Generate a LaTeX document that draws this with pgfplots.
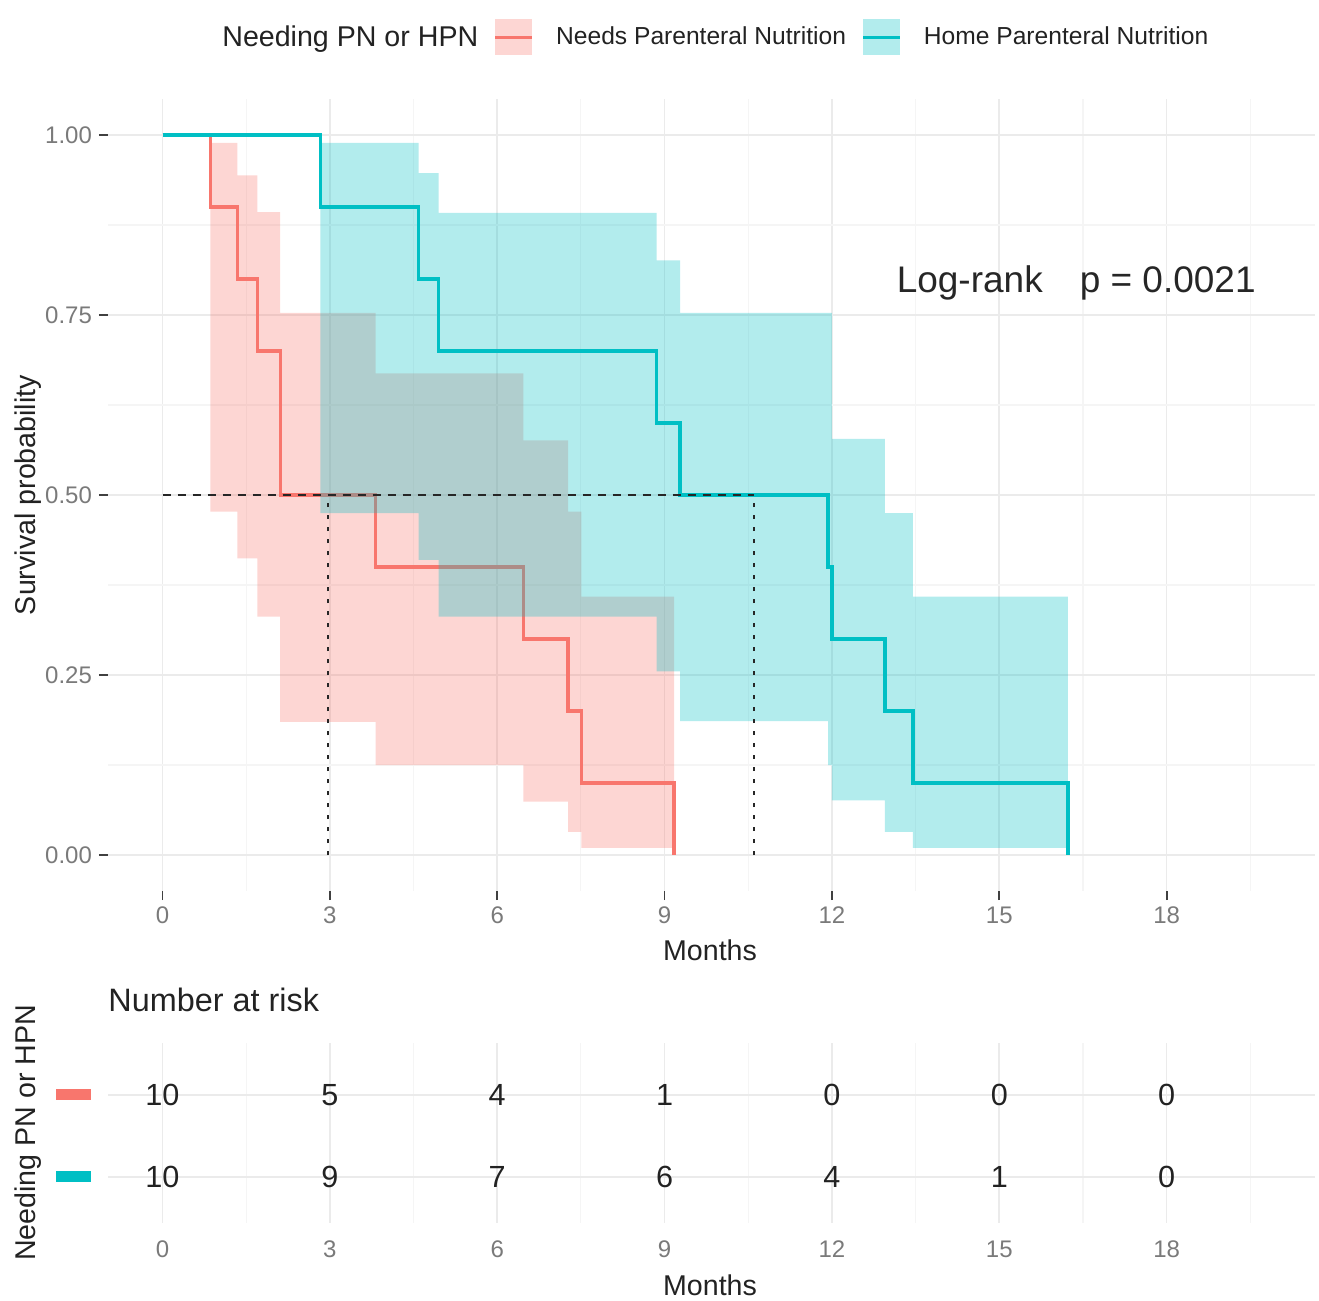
\documentclass[border=0pt]{standalone}
\usepackage{fontspec}
\setmainfont{Liberation Sans}
\usepackage{pgfplots}
\pgfplotsset{compat=1.18}
\definecolor{cpn}{HTML}{F8766D}
\definecolor{chpn}{HTML}{00BFC4}
\definecolor{gmaj}{HTML}{EBEBEB}
\definecolor{gmin}{HTML}{F5F5F5}
\definecolor{ticklab}{HTML}{7A7A7A}
\definecolor{labcol}{HTML}{222222}
\begin{document}
\begin{tikzpicture}
\path[use as bounding box] (0,0) rectangle (659.5pt,-650.5pt);
\pgfplotsset{kmbase/.style={
  scale only axis, width=603.5pt,
  xmin=-0.977, xmax=20.66,
  xtick={0,3,...,18},
  minor xtick={1.5,4.5,...,19.5},
  axis line style={draw=none},
  grid=both,
  major grid style={gmaj, line width=0.8pt},
  minor grid style={gmin, line width=0.6pt},
  minor tick length=0pt,
  tick label style={font=\fontsize{12}{14}\selectfont, text=ticklab},
  /pgf/number format/assume math mode=true,
  label style={font=\fontsize{14.3}{16}\selectfont, text=labcol},
}}
\begin{axis}[kmbase, at={(54pt,-445.5pt)}, anchor=south west, height=396pt,
  ymin=-0.05, ymax=1.05,
  ytick={0,0.25,0.5,0.75,1}, yticklabels={0.00,0.25,0.50,0.75,1.00},
  minor ytick={0.125,0.375,0.625,0.875},
  tick align=outside, tick pos=left, major tick length=4.5pt,
  tick style={black!75, line width=0.9pt},
  xlabel={Months}, ylabel={Survival probability},
  xlabel style={at={(axis description cs:0.4988,-0.0745)}, anchor=center},
  ylabel style={at={(axis description cs:-0.0663,0.5)}, anchor=center},
  legend columns=-1,
  legend style={draw=none, fill=none, at={(0.0762,1.078)}, anchor=west, inner sep=0pt,
    font=\fontsize{12.3}{14}\selectfont, text=labcol,
    /tikz/every odd column/.append style={column sep=11pt},
    /tikz/every even column/.append style={column sep=7.75pt},
    nodes={inner sep=0pt}},
]
% survival curves
\addplot[forget plot, cpn, line width=1.7pt, const plot] coordinates {
 (0,1) (0.86,0.9) (1.34,0.8) (1.70,0.7) (2.11,0.5) (3.82,0.4) (6.47,0.3) (7.27,0.2) (7.51,0.1) (9.17,0)};
\addplot[forget plot, chpn, line width=1.7pt, const plot] coordinates {
 (0,1) (2.83,0.9) (4.59,0.8) (4.95,0.7) (8.86,0.6) (9.28,0.5) (11.93,0.4) (12.0,0.3) (12.95,0.2) (13.45,0.1) (16.23,0)};
% confidence bands
\addplot[forget plot, fill=cpn, fill opacity=0.3, draw=none] coordinates {
 (0.86,0.989) (1.34,0.989) (1.34,0.944) (1.70,0.944) (1.70,0.893) (2.11,0.893) (2.11,0.753) (3.82,0.753)
 (3.82,0.669) (6.47,0.669) (6.47,0.576) (7.27,0.576) (7.27,0.477) (7.51,0.477) (7.51,0.359) (9.17,0.359)
 (9.17,0.01) (7.51,0.01) (7.51,0.032) (7.27,0.032) (7.27,0.074) (6.47,0.074) (6.47,0.125) (3.82,0.125)
 (3.82,0.185) (2.11,0.185) (2.11,0.331) (1.70,0.331) (1.70,0.412) (1.34,0.412) (1.34,0.477) (0.86,0.477)};
\addplot[forget plot, fill=chpn, fill opacity=0.3, draw=none] coordinates {
 (2.83,0.989) (4.59,0.989) (4.59,0.947) (4.95,0.947) (4.95,0.892) (8.86,0.892) (8.86,0.826) (9.28,0.826)
 (9.28,0.753) (12.0,0.753) (12.0,0.578) (12.95,0.578) (12.95,0.475) (13.45,0.475) (13.45,0.359) (16.23,0.359)
 (16.23,0.01) (13.45,0.01) (13.45,0.032) (12.95,0.032) (12.95,0.076) (12.0,0.076) (12.0,0.125) (11.93,0.125)
 (11.93,0.186) (9.28,0.186) (9.28,0.255) (8.86,0.255) (8.86,0.331) (4.95,0.331) (4.95,0.41) (4.59,0.41)
 (4.59,0.475) (2.83,0.475)};
% median lines
\addplot[forget plot, black!85, line width=1.3pt, dash pattern=on 4pt off 3.5pt] coordinates {(0,0.5) (10.6,0.5)};
\addplot[forget plot, black!85, line width=1.3pt, dash pattern=on 2pt off 4pt] coordinates {(2.97,0) (2.97,0.5)};
\addplot[forget plot, black!85, line width=1.3pt, dash pattern=on 2pt off 4pt] coordinates {(10.6,0) (10.6,0.5)};
\node[font=\fontsize{18.5}{20}\selectfont, text=black!85] at (axis cs:16.38,0.794) {Log-rank\hspace{1em}p = 0.0021};
% legend
\addlegendimage{empty legend}
\addlegendentry{\fontsize{14.3}{16}\selectfont Needing PN or HPN}
\addlegendimage{legend image code/.code={\path[fill=cpn, fill opacity=0.3, draw=none] (0pt,-9pt) rectangle (18.5pt,9pt); \path[draw=cpn, line width=1.7pt] (0pt,0pt) -- (18.5pt,0pt);}}
\addlegendentry{Needs Parenteral Nutrition}
\addlegendimage{legend image code/.code={\path[fill=chpn, fill opacity=0.3, draw=none] (0pt,-9pt) rectangle (18.5pt,9pt); \path[draw=chpn, line width=1.7pt] (0pt,0pt) -- (18.5pt,0pt);}}
\addlegendentry{Home Parenteral Nutrition}
\end{axis}

\begin{axis}[kmbase, at={(54pt,-611.5pt)}, anchor=south west, height=90pt,
  ymin=0.44, ymax=2.63, ytick={1,2},
  yticklabels={\textcolor{chpn}{\rule[-2.75pt]{17.5pt}{5.5pt}},\textcolor{cpn}{\rule[-2.75pt]{17.5pt}{5.5pt}}},
  major tick length=0pt,
  xticklabel style={yshift=-5.25pt}, yticklabel style={xshift=-5pt},
  xlabel={Months}, ylabel={Needing PN or HPN},
  xlabel style={at={(axis description cs:0.4988,-0.344)}, anchor=center},
  ylabel style={at={(axis description cs:-0.0663,0.5)}, anchor=center},
  title={Number at risk},
  title style={at={(axis description cs:0,1.172)}, anchor=west, inner sep=0pt, font=\fontsize{16.2}{18}\selectfont, text=labcol},
]
\addplot[draw=none, mark=none, nodes near coords, point meta=explicit symbolic,
  nodes near coords style={anchor=center, font=\fontsize{15.3}{17}\selectfont, text=labcol}]
  table[meta=n] {
x y n
0 2 10
3 2 5
6 2 4
9 2 1
12 2 0
15 2 0
18 2 0
0 1 10
3 1 9
6 1 7
9 1 6
12 1 4
15 1 1
18 1 0
};
\end{axis}
\end{tikzpicture}
\end{document}
